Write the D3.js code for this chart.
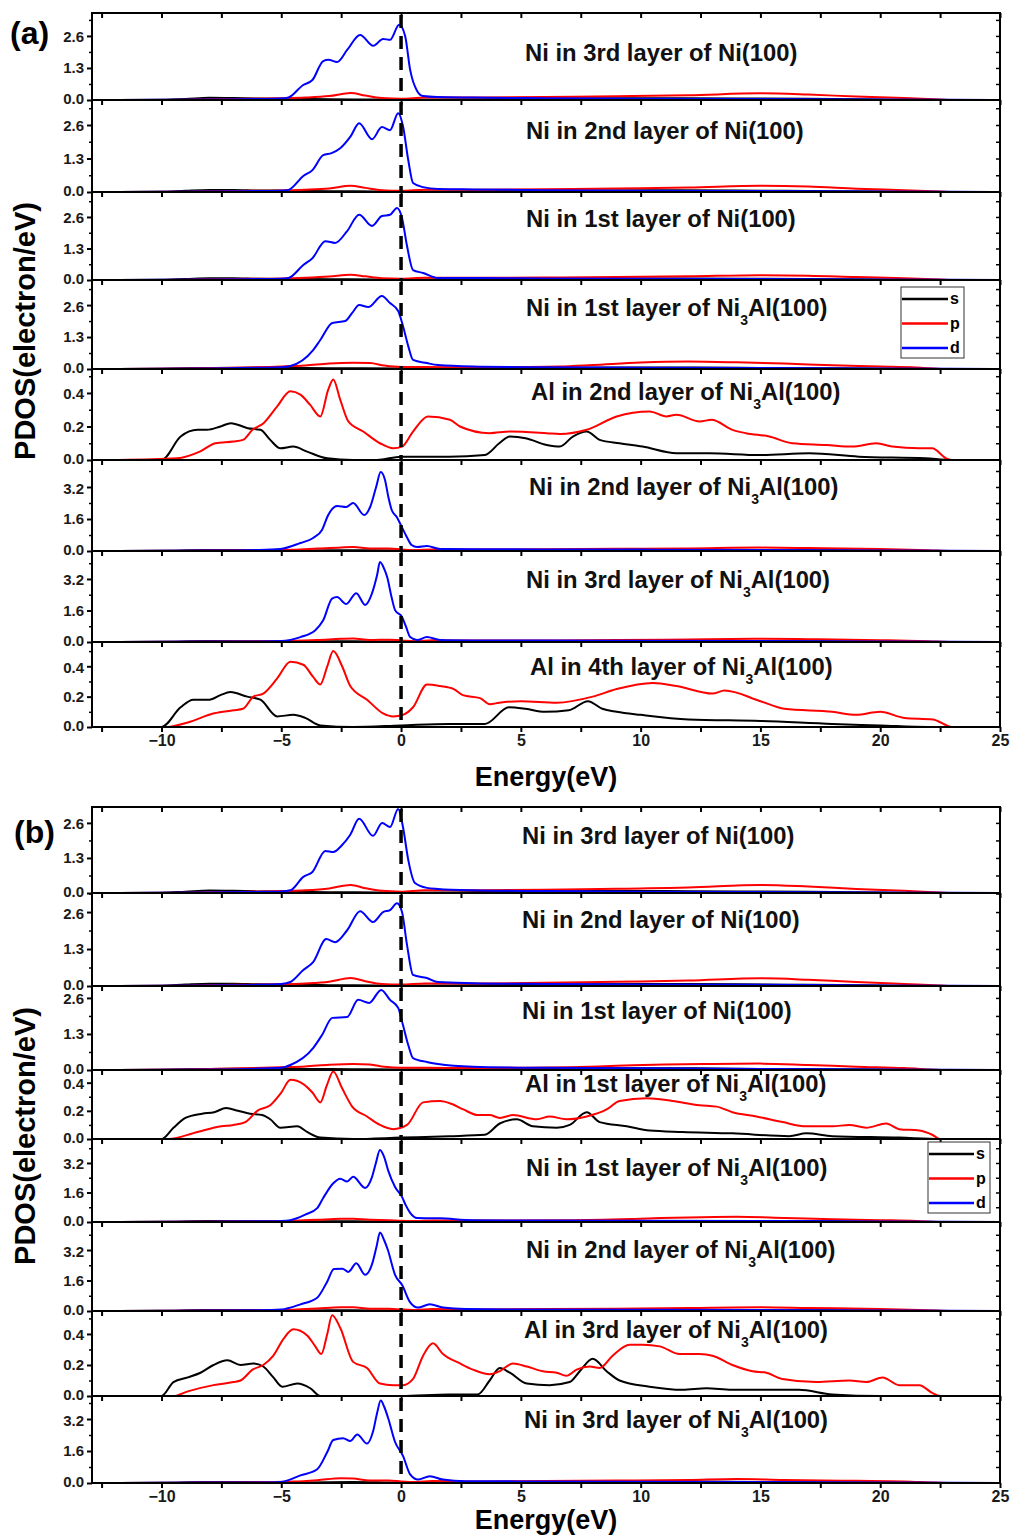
<!DOCTYPE html>
<html>
<head>
<meta charset="utf-8">
<script src="https://cdnjs.cloudflare.com/ajax/libs/d3/7.8.5/d3.min.js"></script>
<style>
  html, body { margin: 0; padding: 0; background: #fff; }
  svg { display: block; font-family: "Liberation Sans", Arial, sans-serif; font-weight: bold; }
</style>
</head>
<body>
<div id="chart"></div>
<script>
// ---- data: [energy (eV), PDOS] pairs ----
// panel (a)
const a1S = [[-11.8,0],[-10,0.01],[-9,0.04],[-8,0.09],[-7,0.08],[-6,0.06],[-4.5,0.05],[-3,0.03],[-1,0.02],[0,0.01],[2,0.02],[5,0.05],[8,0.07],[11,0.07],[14,0.06],[17,0.05],[20,0.02],[22,0],[25,0]];
const a1P = [[-11.8,0],[-9,0.01],[-7,0.04],[-5,0.07],[-4,0.1],[-3,0.16],[-2.1,0.28],[-1.5,0.18],[-0.8,0.08],[0,0.05],[1,0.1],[3,0.1],[6,0.12],[9,0.15],[12,0.19],[15,0.27],[17,0.22],[19,0.14],[21,0.08],[22.5,0.02],[23,0],[25,0]];
const a1D = [[-11.8,0],[-8,0.02],[-6,0.04],[-5,0.06],[-4.7,0.1],[-4.1,0.6],[-3.7,0.81],[-3.25,1.58],[-3.03,1.63],[-2.67,1.54],[-2.25,2.03],[-1.71,2.64],[-1.16,2.2],[-0.75,2.48],[-0.46,2.44],[-0.08,3.05],[0.17,2.6],[0.38,1.22],[0.67,0.37],[0.92,0.16],[1.5,0.12],[3,0.1],[6,0.07],[10,0.05],[15,0.04],[20,0.02],[23,0.01],[25,0]];

const a2S = [[-11.8,0],[-10,0.01],[-9,0.05],[-8,0.08],[-7,0.08],[-6,0.06],[-4.5,0.05],[-3,0.03],[-1,0.02],[0,0.01],[2,0.02],[5,0.04],[8,0.06],[11,0.07],[14,0.06],[17,0.04],[20,0.02],[22,0],[25,0]];
const a2P = [[-11.8,0],[-9,0.01],[-7,0.04],[-5,0.06],[-4,0.09],[-3,0.14],[-2.1,0.24],[-1.5,0.16],[-0.8,0.07],[0,0.05],[1,0.09],[3,0.09],[6,0.11],[9,0.14],[12,0.17],[15,0.24],[17,0.21],[19,0.13],[21,0.07],[22.5,0.02],[23,0],[25,0]];
const a2D = [[-11.8,0],[-8,0.02],[-6,0.04],[-5,0.05],[-4.7,0.08],[-4.08,0.62],[-3.7,0.85],[-3.25,1.43],[-2.9,1.51],[-2.54,1.7],[-2.1,2.17],[-1.75,2.67],[-1.21,2.05],[-0.8,2.52],[-0.46,2.4],[-0.12,3.06],[0.08,2.56],[0.3,1.24],[0.5,0.35],[0.92,0.19],[1.54,0.12],[3,0.1],[6,0.07],[10,0.05],[15,0.04],[20,0.02],[23,0.01],[25,0]];

const a3S = [[-11.8,0],[-10,0.01],[-9,0.04],[-8,0.07],[-7,0.07],[-6,0.05],[-4.5,0.04],[-3,0.03],[-1,0.02],[0,0.01],[2,0.02],[5,0.04],[8,0.06],[11,0.06],[14,0.05],[17,0.04],[20,0.02],[22,0],[25,0]];
const a3P = [[-11.8,0],[-9,0.01],[-7,0.04],[-5,0.06],[-4,0.09],[-3,0.14],[-2.1,0.22],[-1.5,0.15],[-0.8,0.07],[0,0.05],[1,0.09],[3,0.09],[6,0.1],[9,0.12],[12,0.15],[15,0.2],[17,0.18],[19,0.12],[21,0.07],[22.5,0.02],[23,0],[25,0]];
const a3D = [[-11.8,0],[-8,0.02],[-6,0.04],[-5,0.05],[-4.7,0.08],[-4.08,0.62],[-3.7,0.9],[-3.16,1.6],[-2.75,1.53],[-2.25,2.02],[-1.75,2.69],[-1.21,2.23],[-0.8,2.64],[-0.46,2.69],[-0.17,2.97],[0.04,2.56],[0.25,1.4],[0.5,0.41],[0.92,0.29],[1.54,0.08],[3,0.08],[6,0.06],[10,0.05],[15,0.04],[20,0.02],[23,0.01],[25,0]];

const a4S = [[-11.8,0],[-10,0.01],[-8,0.04],[-6,0.05],[-4,0.04],[-2,0.03],[0,0.02],[3,0.03],[6,0.05],[9,0.06],[12,0.06],[15,0.04],[18,0.03],[21,0.01],[22.5,0],[25,0]];
const a4P = [[-11.8,0],[-9,0.02],[-7,0.05],[-5,0.1],[-4,0.14],[-3,0.22],[-2,0.25],[-1.3,0.24],[-0.7,0.14],[0,0.08],[1,0.08],[3,0.07],[5,0.08],[6.6,0.1],[8,0.16],[10,0.26],[12,0.3],[14,0.27],[16,0.22],[18,0.15],[20,0.1],[21.5,0.06],[22.7,0],[25,0]];
const a4D = [[-11.8,0],[-8,0.02],[-6,0.05],[-5,0.07],[-4.62,0.12],[-3.67,0.77],[-3.37,1.18],[-2.87,1.87],[-2.33,1.95],[-2.04,2.28],[-1.75,2.6],[-1.37,2.52],[-0.8,2.97],[-0.46,2.68],[-0.12,2.36],[0.08,1.75],[0.3,0.93],[0.5,0.37],[1.08,0.24],[1.54,0.16],[3,0.1],[6,0.07],[10,0.05],[15,0.04],[20,0.02],[23,0.01],[25,0]];

const a5S = [[-11.8,0],[-10,0],[-9.2,0.14],[-8.5,0.18],[-8.1,0.18],[-7.54,0.2],[-7.1,0.22],[-6.4,0.19],[-5.87,0.18],[-5.46,0.12],[-5.04,0.07],[-4.5,0.08],[-3.92,0.05],[-3.08,0.01],[-2,0],[-1,0],[0,0.02],[2,0.02],[3.5,0.03],[4.1,0.1],[4.54,0.14],[5.2,0.13],[6.08,0.09],[6.63,0.08],[7.17,0.14],[7.75,0.17],[8.29,0.12],[9.12,0.1],[10.08,0.08],[11.5,0.04],[12.87,0.04],[14.96,0.03],[17.04,0.04],[19.1,0.02],[21.9,0.01],[23,0],[25,0]];
const a5P = [[-11.8,0],[-9.35,0.01],[-8.4,0.05],[-7.75,0.1],[-7,0.11],[-6.6,0.12],[-6.2,0.18],[-5.74,0.22],[-5.17,0.32],[-4.62,0.41],[-4.2,0.39],[-3.8,0.33],[-3.37,0.26],[-3.04,0.42],[-2.83,0.48],[-2.54,0.36],[-2.2,0.23],[-1.58,0.17],[-0.88,0.1],[-0.33,0.07],[0.04,0.08],[0.5,0.17],[1.12,0.26],[2.04,0.24],[2.46,0.2],[3.7,0.16],[4.54,0.17],[6.08,0.16],[6.63,0.155],[7.75,0.18],[9,0.26],[10.37,0.29],[11.08,0.26],[11.5,0.27],[12.46,0.23],[12.96,0.24],[13.83,0.18],[14.4,0.16],[15.37,0.14],[16.33,0.1],[17.75,0.09],[18.83,0.08],[19.83,0.1],[20.5,0.08],[21.63,0.07],[22.17,0.07],[22.75,0.01],[23,0],[25,0]];

const a6S = [[-11.8,0],[-10,0.01],[-8,0.05],[-6,0.05],[-4,0.03],[-2,0.04],[0,0.02],[3,0.03],[8,0.05],[12,0.06],[16,0.04],[20,0.03],[22,0],[25,0]];
const a6P = [[-11.8,0],[-8,0.02],[-6,0.04],[-4.5,0.06],[-3.5,0.12],[-2.5,0.18],[-2,0.2],[-1.3,0.12],[-0.5,0.12],[0,0.08],[0.6,0.04],[1.3,0.08],[3,0.07],[6,0.09],[9,0.11],[12,0.13],[15,0.17],[17,0.15],[20,0.1],[22,0.04],[23,0],[25,0]];
const a6D = [[-11.8,0],[-8,0.02],[-6,0.05],[-5.04,0.1],[-4.2,0.4],[-3.67,0.65],[-3.3,1.05],[-3.04,1.8],[-2.67,2.25],[-2.29,2.2],[-2,2.4],[-1.54,1.8],[-1.29,2.2],[-1.04,3.2],[-0.85,3.95],[-0.67,3.55],[-0.53,2.7],[-0.39,2.05],[-0.18,1.7],[0.03,1.2],[0.24,0.7],[0.44,0.3],[0.67,0.2],[1.08,0.25],[1.63,0.1],[3,0.09],[6,0.08],[10,0.07],[15,0.05],[20,0.03],[23,0.01],[25,0]];

const a7S = [[-11.8,0],[-10,0.01],[-8,0.05],[-6,0.04],[-4,0.03],[-2,0.04],[0,0.02],[3,0.03],[8,0.05],[12,0.05],[16,0.04],[20,0.02],[22,0],[25,0]];
const a7P = [[-11.8,0],[-8,0.02],[-6,0.04],[-4.5,0.06],[-3.5,0.1],[-2.5,0.16],[-2,0.18],[-1.3,0.1],[-0.5,0.12],[0,0.08],[0.6,0.04],[1.3,0.09],[3,0.07],[6,0.08],[9,0.1],[12,0.13],[15,0.16],[17,0.14],[20,0.09],[22,0.04],[23,0],[25,0]];
const a7D = [[-11.8,0],[-8,0.02],[-6,0.03],[-5,0.05],[-4.2,0.25],[-3.58,0.6],[-3.25,1.1],[-2.88,2.2],[-2.67,2.28],[-2.29,1.93],[-1.87,2.48],[-1.5,1.88],[-1.21,2.48],[-1,3.4],[-0.88,4.06],[-0.7,3.7],[-0.58,3.3],[-0.4,2.3],[-0.25,1.62],[0.04,1.27],[0.2,0.8],[0.38,0.25],[0.67,0.1],[1.08,0.25],[1.63,0.1],[3,0.08],[6,0.07],[10,0.06],[15,0.05],[20,0.03],[23,0.01],[25,0]];

const a8S = [[-11.8,0],[-10,0],[-9.2,0.13],[-8.67,0.18],[-8,0.18],[-7.54,0.21],[-7.12,0.23],[-6.42,0.2],[-5.87,0.18],[-5.17,0.07],[-4.5,0.08],[-4,0.06],[-3.37,0.01],[-2,0],[0,0.01],[2,0.02],[3.5,0.02],[4.5,0.13],[5.2,0.12],[6,0.1],[7,0.11],[7.8,0.17],[8.4,0.12],[9,0.1],[10,0.08],[12,0.05],[15,0.04],[18,0.02],[20,0.01],[22,0],[25,0]];
const a8P = [[-11.8,0],[-9.75,0],[-8.9,0.03],[-7.8,0.09],[-7,0.11],[-6.6,0.12],[-6.16,0.2],[-5.75,0.22],[-5.17,0.32],[-4.62,0.43],[-4.08,0.41],[-3.67,0.33],[-3.37,0.28],[-3.08,0.4],[-2.83,0.5],[-2.46,0.4],[-2.12,0.27],[-1.42,0.18],[-0.75,0.09],[-0.33,0.07],[0.08,0.08],[0.5,0.13],[1.08,0.28],[1.63,0.27],[2.2,0.25],[2.58,0.21],[3.3,0.19],[3.7,0.15],[4.1,0.16],[5,0.17],[6.5,0.16],[8,0.2],[9,0.25],[10.5,0.29],[11.5,0.27],[13,0.22],[13.5,0.24],[15,0.17],[16,0.12],[18,0.1],[19,0.08],[20,0.1],[21,0.06],[22.2,0.05],[23,0],[25,0]];

// panel (b)
const b1S = [[-11.8,0],[-10,0.01],[-9,0.05],[-8,0.09],[-7,0.08],[-6,0.06],[-4.5,0.05],[-3,0.03],[-1,0.02],[0,0.01],[2,0.02],[5,0.05],[8,0.07],[11,0.07],[14,0.06],[17,0.05],[20,0.02],[22,0],[25,0]];
const b1P = [[-11.8,0],[-9,0.01],[-7,0.04],[-5,0.07],[-4,0.1],[-3,0.17],[-2.1,0.3],[-1.5,0.18],[-0.8,0.08],[0,0.05],[1,0.1],[3,0.1],[6,0.12],[9,0.16],[12,0.2],[15,0.3],[17,0.24],[19,0.15],[21,0.08],[22.5,0.02],[23,0],[25,0]];
const b1D = [[-11.8,0],[-8,0.02],[-6,0.04],[-5,0.06],[-4.62,0.1],[-4.08,0.6],[-3.7,0.78],[-3.16,1.56],[-2.83,1.52],[-2.46,1.78],[-2.12,2.16],[-1.75,2.75],[-1.17,2.12],[-0.79,2.6],[-0.46,2.45],[-0.12,3.12],[0.08,2.45],[0.3,1.23],[0.58,0.37],[1.08,0.19],[1.54,0.15],[3,0.1],[6,0.07],[10,0.05],[15,0.04],[20,0.02],[23,0.01],[25,0]];

const b2S = [[-11.8,0],[-10,0.01],[-9,0.05],[-8,0.08],[-7,0.08],[-6,0.06],[-4.5,0.05],[-3,0.03],[-1,0.02],[0,0.01],[2,0.02],[5,0.04],[8,0.06],[11,0.07],[14,0.06],[17,0.04],[20,0.02],[22,0],[25,0]];
const b2P = [[-11.8,0],[-9,0.01],[-7,0.04],[-5,0.06],[-4,0.09],[-3,0.15],[-2.1,0.28],[-1.5,0.17],[-0.8,0.07],[0,0.05],[1,0.09],[3,0.09],[6,0.11],[9,0.15],[12,0.19],[15,0.27],[17,0.22],[19,0.14],[21,0.07],[22.5,0.02],[23,0],[25,0]];
const b2D = [[-11.8,0],[-8,0.02],[-6,0.04],[-5,0.07],[-4.62,0.14],[-4.08,0.56],[-3.67,0.84],[-3.12,1.65],[-2.75,1.54],[-2.25,1.96],[-1.71,2.63],[-1.17,2.25],[-0.75,2.6],[-0.46,2.67],[-0.17,2.91],[0.04,2.6],[0.25,1.44],[0.5,0.39],[1.08,0.28],[1.54,0.14],[3,0.1],[6,0.07],[10,0.05],[15,0.04],[20,0.02],[23,0.01],[25,0]];

const b3S = [[-11.8,0],[-10,0.01],[-8,0.04],[-6,0.05],[-4,0.04],[-2,0.03],[0,0.02],[3,0.03],[6,0.05],[9,0.06],[12,0.06],[15,0.04],[18,0.03],[21,0.01],[22.5,0],[25,0]];
const b3P = [[-11.8,0],[-9,0.02],[-7,0.05],[-5,0.1],[-4,0.13],[-3,0.19],[-2,0.22],[-1.3,0.2],[-0.7,0.12],[0,0.08],[1,0.08],[3,0.07],[5,0.08],[7,0.1],[9,0.15],[11,0.2],[13,0.22],[15,0.23],[17,0.18],[19,0.12],[21,0.07],[22.7,0],[25,0]];
const b3D = [[-11.8,0],[-8,0.02],[-6,0.05],[-5,0.08],[-4.62,0.18],[-3.67,0.79],[-3.3,1.26],[-2.87,1.88],[-2.25,1.91],[-1.79,2.53],[-1.33,2.42],[-0.83,2.89],[-0.46,2.53],[-0.12,2.24],[0.08,1.62],[0.3,0.9],[0.5,0.43],[1.08,0.29],[1.54,0.22],[3,0.12],[6,0.08],[10,0.06],[15,0.04],[20,0.02],[23,0.01],[25,0]];

const b4S = [[-11.8,0],[-10,0],[-9.5,0.08],[-9,0.15],[-8.3,0.18],[-7.8,0.19],[-7.3,0.22],[-6.8,0.2],[-6.3,0.18],[-5.8,0.17],[-5.46,0.14],[-5.04,0.08],[-4.33,0.09],[-3.92,0.05],[-3.37,0.01],[-2,0],[0,0.01],[2,0.02],[3.5,0.03],[4.12,0.11],[4.83,0.14],[5.5,0.09],[6.5,0.08],[7.04,0.1],[7.75,0.19],[8.29,0.12],[9.42,0.09],[10.37,0.06],[11.75,0.05],[13.83,0.04],[16.2,0.02],[16.92,0.04],[18,0.02],[20.8,0.01],[22.5,0],[25,0]];
const b4P = [[-11.8,0],[-9.7,0],[-8.5,0.05],[-7.5,0.09],[-7,0.1],[-6.5,0.12],[-6,0.2],[-5.46,0.24],[-5,0.33],[-4.62,0.42],[-4.08,0.39],[-3.7,0.33],[-3.37,0.26],[-3.1,0.38],[-2.83,0.48],[-2.46,0.36],[-2.04,0.23],[-1.42,0.16],[-0.88,0.1],[-0.33,0.07],[0.25,0.1],[0.92,0.26],[1.63,0.27],[2.1,0.25],[2.6,0.21],[3.2,0.17],[3.7,0.17],[4.12,0.15],[4.67,0.17],[5.67,0.14],[6.2,0.16],[6.9,0.14],[7.75,0.16],[8.58,0.21],[9.12,0.27],[10.25,0.29],[11.33,0.27],[12.46,0.24],[13.17,0.23],[13.83,0.19],[14.83,0.16],[15.92,0.12],[16.92,0.09],[18,0.09],[18.71,0.1],[19.42,0.08],[20.25,0.11],[20.79,0.07],[21.63,0.06],[22.17,0.03],[22.5,0],[25,0]];

const b5S = [[-11.8,0],[-10,0.01],[-8,0.05],[-6,0.05],[-4,0.03],[-2,0.04],[0,0.02],[3,0.03],[8,0.05],[12,0.06],[16,0.04],[20,0.03],[22,0],[25,0]];
const b5P = [[-11.8,0],[-8,0.02],[-6,0.04],[-4.5,0.07],[-3.5,0.12],[-2.5,0.17],[-2,0.18],[-1.3,0.12],[-0.5,0.1],[0,0.07],[0.6,0.05],[1.3,0.08],[4,0.08],[7,0.1],[10,0.18],[12,0.25],[14,0.28],[16,0.22],[18,0.15],[20,0.1],[21.5,0.06],[22.7,0],[25,0]];
const b5D = [[-11.8,0],[-8,0.02],[-6,0.04],[-5,0.06],[-4.62,0.1],[-4,0.4],[-3.5,0.75],[-3.25,1.3],[-2.83,2.1],[-2.54,2.35],[-2.25,2.2],[-2,2.45],[-1.5,1.85],[-1.21,2.45],[-1.05,3.2],[-0.88,3.9],[-0.7,3.5],[-0.54,2.8],[-0.25,1.9],[0.04,1.36],[0.2,0.9],[0.38,0.5],[0.67,0.22],[1.63,0.2],[3,0.1],[6,0.08],[10,0.07],[15,0.06],[20,0.03],[23,0.01],[25,0]];

const b6S = [[-11.8,0],[-10,0.01],[-8,0.05],[-6,0.05],[-4,0.03],[-2,0.04],[0,0.02],[3,0.03],[8,0.05],[12,0.06],[16,0.04],[20,0.03],[22,0],[25,0]];
const b6P = [[-11.8,0],[-8,0.02],[-6,0.04],[-4.5,0.07],[-3.5,0.13],[-2.5,0.2],[-2,0.2],[-1.3,0.12],[-0.5,0.12],[0,0.08],[0.6,0.05],[1.3,0.1],[3,0.08],[6,0.1],[9,0.12],[12,0.16],[15,0.2],[17,0.16],[20,0.1],[22,0.04],[23,0],[25,0]];
const b6D = [[-11.8,0],[-8,0.02],[-6,0.04],[-5,0.08],[-4.2,0.35],[-3.5,0.7],[-3.1,1.5],[-2.8,2.2],[-2.45,2.22],[-2.2,2.05],[-1.87,2.5],[-1.5,1.9],[-1.2,2.5],[-1.02,3.4],[-0.88,4.12],[-0.7,3.7],[-0.55,3.2],[-0.25,1.9],[0.05,1.35],[0.38,0.45],[0.7,0.18],[1.2,0.35],[1.75,0.18],[2.7,0.1],[5,0.08],[10,0.06],[15,0.05],[20,0.03],[23,0.01],[25,0]];

const b7S = [[-11.8,0],[-10,0],[-9.5,0.09],[-8.9,0.12],[-8.37,0.15],[-7.83,0.2],[-7.25,0.23],[-6.7,0.2],[-6.16,0.21],[-5.75,0.19],[-5.33,0.12],[-4.96,0.06],[-4.33,0.08],[-3.79,0.05],[-3.37,0],[0,0],[2,0.01],[3.2,0.01],[3.7,0.1],[4.12,0.18],[4.54,0.15],[5.25,0.08],[6.2,0.07],[7.04,0.09],[7.46,0.16],[8,0.24],[8.58,0.16],[9.12,0.1],[10.37,0.06],[11.75,0.04],[12.75,0.05],[13.8,0.04],[16.6,0.04],[18,0.01],[20,0],[25,0]];
const b7P = [[-11.8,0],[-9.5,0],[-8.9,0.03],[-7.83,0.07],[-7,0.09],[-6.7,0.1],[-6.2,0.17],[-5.75,0.2],[-5.33,0.26],[-4.9,0.37],[-4.5,0.43],[-3.92,0.39],[-3.58,0.32],[-3.33,0.27],[-3.08,0.4],[-2.88,0.52],[-2.54,0.44],[-2,0.22],[-1.42,0.18],[-0.88,0.08],[-0.33,0.07],[0.08,0.07],[0.5,0.11],[0.92,0.26],[1.33,0.34],[1.75,0.27],[2.46,0.21],[3,0.17],[3.7,0.14],[4.12,0.16],[4.67,0.21],[5.25,0.19],[5.92,0.16],[6.5,0.15],[6.9,0.13],[7.33,0.17],[7.87,0.19],[8.29,0.18],[8.83,0.26],[9.54,0.33],[10.1,0.33],[10.8,0.32],[11.63,0.27],[12.46,0.27],[13,0.26],[13.83,0.2],[14.67,0.16],[15.25,0.15],[15.92,0.11],[17.33,0.09],[18.71,0.1],[19.42,0.09],[20.1,0.12],[20.79,0.07],[21.63,0.07],[22.17,0.02],[22.5,0],[25,0]];

const b8S = [[-11.8,0],[-10,0.01],[-8,0.05],[-6,0.05],[-4,0.03],[-2,0.05],[0,0.02],[3,0.03],[8,0.05],[12,0.07],[16,0.04],[20,0.03],[22,0],[25,0]];
const b8P = [[-11.8,0],[-8,0.02],[-6,0.04],[-4.5,0.07],[-3.5,0.14],[-2.5,0.24],[-2,0.22],[-1.3,0.13],[-0.5,0.13],[0,0.08],[0.6,0.05],[1.3,0.1],[3,0.08],[6,0.1],[9,0.12],[12,0.15],[14,0.2],[16,0.15],[19,0.11],[21,0.08],[22.3,0.02],[23,0],[25,0]];
const b8D = [[-11.8,0],[-8,0.02],[-6,0.03],[-5.04,0.05],[-4.2,0.38],[-3.5,0.69],[-3.08,1.55],[-2.83,2.15],[-2.42,2.24],[-2.12,2.1],[-1.83,2.43],[-1.42,1.97],[-1.17,2.57],[-1,3.5],[-0.85,4.12],[-0.7,3.8],[-0.54,3.25],[-0.25,2.05],[0.08,1.36],[0.38,0.43],[0.71,0.17],[1.2,0.34],[1.75,0.17],[2.7,0.09],[5,0.08],[10,0.06],[15,0.05],[20,0.03],[23,0.01],[25,0]];

// subplot titles ("_3" = subscript 3)
const labelsA = ["Ni in 3rd layer of Ni(100)", "Ni in 2nd layer of Ni(100)", "Ni in 1st layer of Ni(100)", "Ni in 1st layer of Ni_3Al(100)",
                 "Al in 2nd layer of Ni_3Al(100)", "Ni in 2nd layer of Ni_3Al(100)", "Ni in 3rd layer of Ni_3Al(100)", "Al in 4th layer of Ni_3Al(100)"];
const labelsB = ["Ni in 3rd layer of Ni(100)", "Ni in 2nd layer of Ni(100)", "Ni in 1st layer of Ni(100)", "Al in 1st layer of Ni_3Al(100)",
                 "Ni in 1st layer of Ni_3Al(100)", "Ni in 2nd layer of Ni_3Al(100)", "Al in 3rd layer of Ni_3Al(100)", "Ni in 3rd layer of Ni_3Al(100)"];

// y tick labels per kind of subplot
const ticksNi = [0, 1.3, 2.6];
const ticksNiAl = [0, 1.6, 3.2];
const ticksAl = [0, 0.2, 0.4];
const xTickLabels = [-10, -5, 0, 5, 10, 15, 20, 25];
const legendNames = ["s", "p", "d"];
const seriesColors = ["#000000", "#ff0000", "#0000ff"];

const rowsA = [
  { series: [a1S, a1P, a1D], ticks: ticksNi }, { series: [a2S, a2P, a2D], ticks: ticksNi },
  { series: [a3S, a3P, a3D], ticks: ticksNi }, { series: [a4S, a4P, a4D], ticks: ticksNi },
  { series: [a5S, a5P], ticks: ticksAl },       { series: [a6S, a6P, a6D], ticks: ticksNiAl },
  { series: [a7S, a7P, a7D], ticks: ticksNiAl }, { series: [a8S, a8P], ticks: ticksAl }
];
const rowsB = [
  { series: [b1S, b1P, b1D], ticks: ticksNi }, { series: [b2S, b2P, b2D], ticks: ticksNi },
  { series: [b3S, b3P, b3D], ticks: ticksNi }, { series: [b4S, b4P], ticks: ticksAl },
  { series: [b5S, b5P, b5D], ticks: ticksNiAl }, { series: [b6S, b6P, b6D], ticks: ticksNiAl },
  { series: [b7S, b7P], ticks: ticksAl },       { series: [b8S, b8P, b8D], ticks: ticksNiAl }
];

// ---- layout (pixels) ----
const W = 1010, H = 1535;
const plotLeft = 92, plotRight = 1000;
const panelLayout = [
  { tag: "(a)", tagPos: [10, 44], edges: [13, 100, 192, 280, 369, 460, 551, 642, 727],
    yMax: [3.53, 3.57, 3.63, 3.62, 0.543, 4.55, 4.62, 0.56],
    labelX: [525, 526, 526, 526, 531, 529, 526, 530], labelY: [53, 131, 219, 308, 392, 487, 580, 667],
    legendRow: 3, legendBox: [901, 287, 63, 71], yTitleY: 331, xTitleY: 786, rows: rowsA, labels: labelsA },
  { tag: "(b)", tagPos: [14, 843], edges: [807, 893, 986, 1070, 1139, 1222, 1311, 1396, 1483],
    yMax: [3.19, 3.27, 3.03, 0.49, 4.5, 4.67, 0.548, 4.35],
    labelX: [522, 522, 522, 525, 526, 526, 524, 524], labelY: [836, 920, 1011, 1084, 1168, 1250, 1330, 1420],
    legendRow: 4, legendBox: [928, 1142, 62, 71], yTitleY: 1136, xTitleY: 1529, rows: rowsB, labels: labelsB }
];

const svg = d3.select("#chart").append("svg")
  .attr("width", W).attr("height", H)
  .attr("viewBox", `0 0 ${W} ${H}`);

const x = d3.scaleLinear().domain([-12.9, 25]).range([plotLeft, plotRight]);
const xTicks = d3.range(-12.5, 25.01, 2.5);
const fmtMinus = d => (d < 0 ? "\u2212" + Math.abs(d) : String(d));

panelLayout.forEach(panel => {
  const g = svg.append("g");

  panel.rows.forEach((row, i) => {
    const top = panel.edges[i], bottom = panel.edges[i + 1];
    const y = d3.scaleLinear().domain([0, panel.yMax[i]]).range([bottom, top]);
    const step = row.ticks[1] - row.ticks[0];
    const minor = d3.range(step / 2, panel.yMax[i], step);
    const topTick = row.ticks[row.ticks.length - 1];

    const clipId = `clip-${panel.tag.replace(/\W/g, "")}-${i}`;
    g.append("clipPath").attr("id", clipId)
      .append("rect").attr("x", plotLeft).attr("y", top).attr("width", plotRight - plotLeft).attr("height", bottom - top);

    // curves
    const line = d3.line().x(d => x(d[0])).y(d => y(d[1])).curve(d3.curveMonotoneX);
    g.append("g").attr("clip-path", `url(#${clipId})`)
      .selectAll("path").data(row.series).enter().append("path")
      .attr("d", line)
      .attr("fill", "none")
      .attr("stroke", (d, k) => seriesColors[k])
      .attr("stroke-width", 2)
      .attr("stroke-linejoin", "round");

    // Fermi level
    g.append("line")
      .attr("x1", x(0)).attr("x2", x(0)).attr("y1", top + 2).attr("y2", bottom)
      .attr("stroke", "#000").attr("stroke-width", 3.5).attr("stroke-dasharray", "13,8");

    // left axis: major + minor, ticks outward
    const left = g.append("g").attr("transform", `translate(${plotLeft},0)`)
      .call(d3.axisLeft(y).tickValues(row.ticks).tickSize(5).tickPadding(3).tickFormat(d3.format(".1f")));
    left.select(".domain").remove();
    left.selectAll("line").attr("stroke-width", 2);
    left.selectAll("text").attr("font-size", 15).attr("font-weight", "bold").attr("fill", "#1a1a1a")
      .attr("font-family", "Liberation Sans, Arial, sans-serif")
      .attr("dy", d => (d === 0 ? "0.22em" : d === topTick ? "0.4em" : "0.32em"));
    const leftMinor = g.append("g").attr("transform", `translate(${plotLeft},0)`)
      .call(d3.axisLeft(y).tickValues(minor).tickSize(3).tickFormat(""));
    leftMinor.select(".domain").remove();
    leftMinor.selectAll("line").attr("stroke-width", 1.5);

    // right axis, ticks inward
    const right = g.append("g").attr("transform", `translate(${plotRight},0)`)
      .call(d3.axisLeft(y).tickValues(row.ticks.concat(minor).filter(v => v > 0)).tickSize(4).tickFormat(""));
    right.select(".domain").remove();
    right.selectAll("line").attr("stroke-width", 1.5);

    // top ticks pointing down into the subplot
    const topAx = g.append("g").attr("transform", `translate(0,${top})`)
      .call(d3.axisTop(x).tickValues(xTicks).tickSize(-5).tickFormat(""));
    topAx.select(".domain").remove();
    topAx.selectAll("line").attr("stroke-width", 2);

    // frame
    g.append("rect").attr("x", plotLeft).attr("y", top)
      .attr("width", plotRight - plotLeft).attr("height", bottom - top)
      .attr("fill", "none").attr("stroke", "#000").attr("stroke-width", 2);

    // title with subscript
    const parts = panel.labels[i].split("_3");
    const t = g.append("text").attr("x", panel.labelX[i]).attr("y", panel.labelY[i] + 8)
      .attr("font-size", 23.8).attr("font-weight", "bold").attr("fill", "#111");
    t.append("tspan").text(parts[0]);
    if (parts.length > 1) {
      t.append("tspan").attr("font-size", 14).attr("dy", 9).text("3");
      t.append("tspan").attr("dy", -9).text(parts[1]);
    }

    // bottom axis for last subplot
    if (i === panel.rows.length - 1) {
      const bot = g.append("g").attr("transform", `translate(0,${bottom})`)
        .call(d3.axisBottom(x).tickValues(xTicks).tickSize(5).tickPadding(3)
          .tickFormat(d => (xTickLabels.includes(d) ? fmtMinus(d) : "")));
      bot.select(".domain").remove();
      bot.selectAll("line").attr("stroke-width", 2);
      bot.selectAll("text").attr("font-size", 16).attr("font-weight", "bold").attr("fill", "#1a1a1a")
        .attr("font-family", "Liberation Sans, Arial, sans-serif");
    }

    // legend
    if (i === panel.legendRow) {
      const [bx, by, bw, bh] = panel.legendBox;
      const lg = g.append("g");
      lg.append("rect").attr("x", bx).attr("y", by).attr("width", bw).attr("height", bh)
        .attr("fill", "#fff").attr("stroke", "#333").attr("stroke-width", 1);
      const rowY = d3.scalePoint().domain(legendNames).range([by + 12, by + bh - 10]);
      legendNames.forEach((name, k) => {
        lg.append("line").attr("x1", bx + 1).attr("x2", bx + bw - 16)
          .attr("y1", rowY(name)).attr("y2", rowY(name))
          .attr("stroke", seriesColors[k]).attr("stroke-width", 2.5);
        lg.append("text").attr("x", bx + bw - 14).attr("y", rowY(name) + 5)
          .attr("font-size", 16).attr("font-weight", "bold").text(name);
      });
    }
  });

  // panel tag and axis titles
  g.append("text").attr("x", panel.tagPos[0]).attr("y", panel.tagPos[1])
    .attr("font-size", 32).attr("font-weight", "bold").text(panel.tag);
  g.append("text")
    .attr("transform", `translate(35,${panel.yTitleY}) rotate(-90)`)
    .attr("text-anchor", "middle").attr("font-size", 29).attr("font-weight", "bold")
    .text("PDOS(electron/eV)");
  g.append("text").attr("x", 546).attr("y", panel.xTitleY)
    .attr("text-anchor", "middle").attr("font-size", 27).attr("font-weight", "bold")
    .text("Energy(eV)");
});
</script>
</body>
</html>
